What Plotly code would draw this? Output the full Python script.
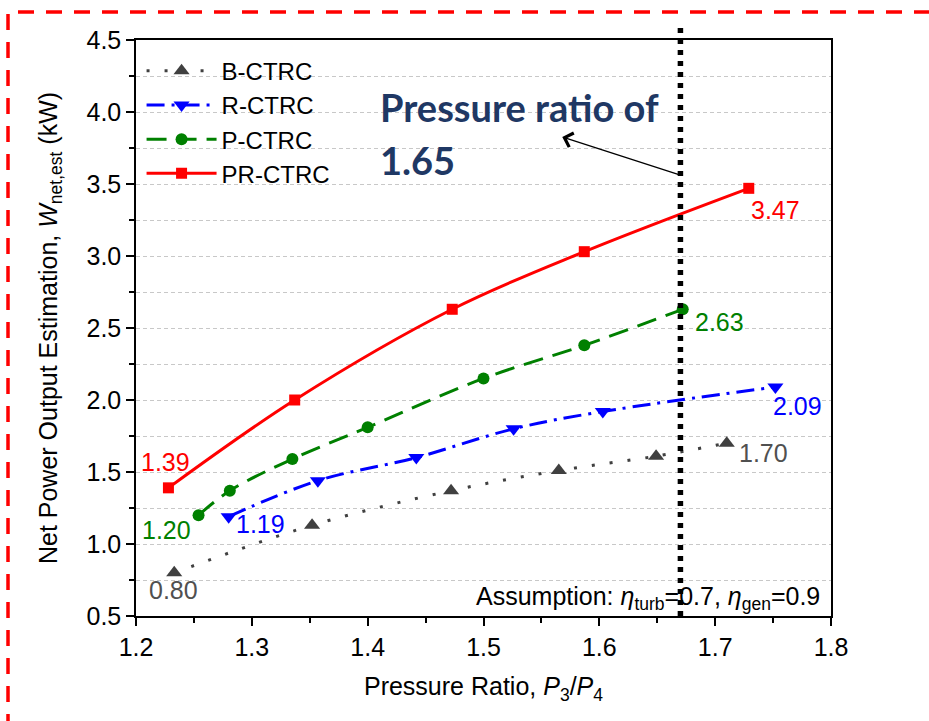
import plotly.graph_objects as go

# ---------------- data ----------------
b_x = [1.233, 1.352, 1.472, 1.565, 1.649, 1.710]
b_y = [0.80, 1.13, 1.37, 1.51, 1.61, 1.70]
r_x = [1.280, 1.357, 1.442, 1.526, 1.603, 1.752]
r_y = [1.19, 1.44, 1.60, 1.80, 1.92, 2.09]
p_x = [1.254, 1.281, 1.335, 1.400, 1.500, 1.587, 1.672]
p_y = [1.20, 1.37, 1.59, 1.81, 2.15, 2.38, 2.63]
pr_x = [1.228, 1.337, 1.473, 1.587, 1.729]
pr_y = [1.39, 2.00, 2.63, 3.03, 3.47]

series_names = ["B-CTRC", "R-CTRC", "P-CTRC", "PR-CTRC"]
x_ticks = [1.2, 1.3, 1.4, 1.5, 1.6, 1.7, 1.8]
y_ticks = [0.5, 1.0, 1.5, 2.0, 2.5, 3.0, 3.5, 4.0, 4.5]
ratio_line_x = 1.67

# end-point labels: (x, y, text)
labels_b = [(b_x[0], b_y[0], "0.80"), (b_x[-1], b_y[-1], "1.70")]
labels_r = [(r_x[0], r_y[0], "1.19"), (r_x[-1], r_y[-1], "2.09")]
labels_p = [(p_x[0], p_y[0], "1.20"), (p_x[-1], p_y[-1], "2.63")]
labels_pr = [(pr_x[0], pr_y[0], "1.39"), (pr_x[-1], pr_y[-1], "3.47")]

arrow_head = (1.568, 3.826)
arrow_tail = (1.672, 3.556)

# ---------------- styles ----------------
GRAY = "#404040"
BLUE = "#0000FF"
GREEN = "#008000"
RED = "#FF0000"
FONT = "Liberation Sans, Arial, sans-serif"
FS = 25

fig = go.Figure()
fig.add_trace(go.Scatter(x=b_x, y=b_y, name=series_names[0], mode="lines+markers",
                         line=dict(color=GRAY, width=3, dash="3px,15px", shape="spline"),
                         marker=dict(symbol="triangle-up", size=14, color=GRAY)))
fig.add_trace(go.Scatter(x=r_x, y=r_y, name=series_names[1], mode="lines+markers",
                         line=dict(color=BLUE, width=3, dash="18px,7px,3px,7px", shape="spline"),
                         marker=dict(symbol="triangle-down", size=14, color=BLUE)))
fig.add_trace(go.Scatter(x=p_x, y=p_y, name=series_names[2], mode="lines+markers",
                         line=dict(color=GREEN, width=3, dash="20px,10px", shape="spline"),
                         marker=dict(symbol="circle", size=12, color=GREEN)))
fig.add_trace(go.Scatter(x=pr_x, y=pr_y, name=series_names[3], mode="lines+markers",
                         line=dict(color=RED, width=3, shape="spline"),
                         marker=dict(symbol="square", size=11, color=RED)))

annotations = []
offsets = {
    "0.80": (-1, -17), "1.70": (37, -10),
    "1.19": (32, -7), "2.09": (22, -19),
    "1.20": (-32, -15), "2.63": (37, -13),
    "1.39": (-3, 26), "3.47": (27, -22),
}
for labs, col in [(labels_b, "#505050"), (labels_r, BLUE), (labels_p, GREEN), (labels_pr, RED)]:
    for (lx, ly, t) in labs:
        dx, dy = offsets[t]
        annotations.append(dict(x=lx, y=ly, xref="x", yref="y", text=t, showarrow=False,
                                xshift=dx, yshift=dy, font=dict(family=FONT, size=FS, color=col)))

# pressure ratio note
NOTE_FONT = dict(family="Lato, Open Sans, sans-serif", size=38, color="#1F3864")
annotations.append(dict(x=(378 - 136) / 695, y=(616 - 107) / 576, xref="paper", yref="paper",
                        text="<b>Pressure ratio of</b>", showarrow=False, xanchor="left", yanchor="middle",
                        font=NOTE_FONT))
annotations.append(dict(x=(378 - 136) / 695, y=(616 - 160) / 576, xref="paper", yref="paper",
                        text="<b>1.65</b>", showarrow=False, xanchor="left", yanchor="middle",
                        font=NOTE_FONT))
annotations.append(dict(x=arrow_head[0], y=arrow_head[1], xref="x", yref="y",
                        ax=arrow_tail[0], ay=arrow_tail[1], axref="x", ayref="y",
                        text="", showarrow=True, arrowhead=4, arrowsize=2.2, arrowwidth=1.3,
                        arrowcolor="black"))
# assumption
annotations.append(dict(x=(822 - 136) / 695, y=(616 - 598) / 576, xref="paper", yref="paper",
                        text="Assumption: <i>η</i><sub>turb</sub>=0.7, <i>η</i><sub>gen</sub>=0.9",
                        showarrow=False, xanchor="right", yanchor="middle",
                        font=dict(family=FONT, size=FS, color="black")))

shapes = [
    dict(type="line", xref="x", yref="paper", x0=ratio_line_x, x1=ratio_line_x, y0=0,
         y1=(616 - 22) / 576, line=dict(color="black", width=5.5, dash="5px,6px"), layer="above"),
    # red dashed frame
    dict(type="line", xref="paper", yref="paper", x0=(18 - 136) / 695, x1=(929 - 136) / 695,
         y0=(616 - 12) / 576, y1=(616 - 12) / 576, line=dict(color=RED, width=3.5, dash="16px,12px")),
    dict(type="line", xref="paper", yref="paper", x0=(8 - 136) / 695, x1=(8 - 136) / 695,
         y0=(616 - 14) / 576, y1=(616 - 721) / 576, line=dict(color=RED, width=3.5, dash="16px,12px")),
]

fig.update_layout(
    width=929, height=721,
    margin=dict(l=136, r=98, t=40, b=105),
    paper_bgcolor="white", plot_bgcolor="white",
    font=dict(family=FONT, size=FS, color="black"),
    showlegend=True,
    legend=dict(x=0.008, y=0.985, xanchor="left", yanchor="top", bgcolor="rgba(0,0,0,0)",
                font=dict(family=FONT, size=24), tracegroupgap=0, itemwidth=70),
    annotations=annotations,
    shapes=shapes,
)
fig.update_xaxes(
    range=[1.2, 1.8], tickvals=x_ticks, ticktext=[f"{v:.1f}" for v in x_ticks],
    showgrid=False, zeroline=False,
    showline=True, linecolor="black", linewidth=1.5, mirror=True,
    ticks="outside", ticklen=8, tickwidth=1.5, tickcolor="black",
    minor=dict(dtick=0.05, tick0=1.2, ticks="outside", ticklen=5, tickwidth=1.5, tickcolor="black", showgrid=False),
    tickfont=dict(family=FONT, size=FS),
    title=dict(text="Pressure Ratio, <i>P</i><sub>3</sub>/<i>P</i><sub>4</sub>", standoff=18,
               font=dict(family=FONT, size=FS)),
)
fig.update_yaxes(
    range=[0.5, 4.5], tickvals=y_ticks, ticktext=[f"{v:.1f}" for v in y_ticks],
    showgrid=True, gridcolor="#C8C8C8", gridwidth=1, griddash="4px,3px", zeroline=False,
    showline=True, linecolor="black", linewidth=1.5, mirror=True,
    ticks="outside", ticklen=8, tickwidth=1.5, tickcolor="black",
    minor=dict(dtick=0.25, tick0=0.5, ticks="outside", ticklen=5, tickwidth=1.5, tickcolor="black",
               showgrid=True, gridcolor="#C8C8C8", gridwidth=1, griddash="4px,3px"),
    tickfont=dict(family=FONT, size=FS),
    title=dict(text="Net Power Output Estimation, <i>W</i><sub>net,est</sub> (kW)", standoff=22,
               font=dict(family=FONT, size=FS)),
)

fig.write_html("out.html")
